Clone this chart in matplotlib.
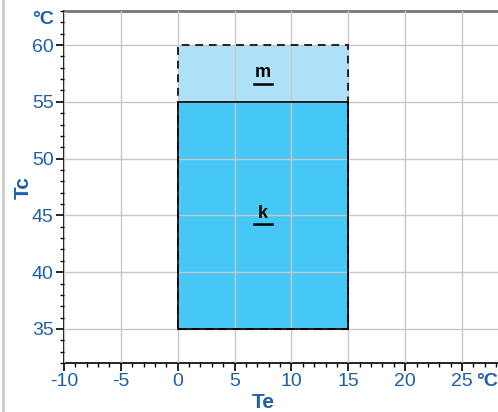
import matplotlib.pyplot as plt
from matplotlib.patches import Rectangle
from matplotlib.ticker import MultipleLocator

plt.rcParams['font.family'] = ['Liberation Sans', 'DejaVu Sans']
plt.rcParams['axes.unicode_minus'] = False

# zones (Te from/to, Tc from/to)
zone_names = ['k', 'm']
te_lo = [0, 0]
te_hi = [15, 15]
tc_lo = [35, 55]
tc_hi = [55, 60]
zone_colors = ['#45c8f5', '#aee1f9']

x_ticks = [-10, -5, 0, 5, 10, 15, 20, 25]
y_ticks = [35, 40, 45, 50, 55, 60]

blue = '#1f5fa8'

fig = plt.figure(figsize=(4.98, 4.12), dpi=100)
ax = fig.add_axes([64/498, 1 - 363/412, 1 - 64/498 + 0.01, (363 - 11)/412])
ax.set_xlim(-10, 28.6)
ax.set_ylim(32, 63)

for i in range(len(zone_names)):
    ax.add_patch(Rectangle((te_lo[i], tc_lo[i]), te_hi[i] - te_lo[i], tc_hi[i] - tc_lo[i],
                           facecolor=zone_colors[i], edgecolor='none', zorder=1))

# outer dashed outline and solid outline of k
ax.add_patch(Rectangle((te_lo[0], tc_lo[0]), te_hi[1] - te_lo[0], tc_hi[1] - tc_lo[0],
                       fill=False, edgecolor='#222222', lw=1.4, ls=(0, (4, 3)), zorder=3))
ax.add_patch(Rectangle((te_lo[0], tc_lo[0]), te_hi[0] - te_lo[0], tc_hi[0] - tc_lo[0],
                       fill=False, edgecolor='black', lw=1.2, zorder=3))

for i, name in enumerate(zone_names):
    xc = (te_lo[i] + te_hi[i]) / 2
    yc = (tc_lo[i] + tc_hi[i]) / 2 + (0.2 if name == 'k' else 0.1)
    ax.text(xc, yc, name, ha='center', va='center', fontsize=13, fontweight='bold', zorder=4)
    ax.plot([xc - 0.75, xc + 0.75], [yc - 1.0, yc - 1.0], color='black', lw=1.8, zorder=4)

ax.set_xticks(x_ticks)
ax.set_yticks(y_ticks)
ax.xaxis.set_minor_locator(MultipleLocator(1))
ax.yaxis.set_minor_locator(MultipleLocator(1))
ax.grid(True, which='major', color='#c8c8c8', lw=1.0, zorder=2)
ax.set_axisbelow(False)
for gl in ax.get_xgridlines() + ax.get_ygridlines():
    gl.set_zorder(2)

ax.tick_params(which='major', direction='out', length=5.5, width=1.2, colors='black',
               labelcolor=blue, labelsize=14, pad=2)
ax.tick_params(which='minor', direction='out', length=3, width=1.0, colors='black')

ax.spines['right'].set_visible(False)
ax.spines['top'].set_color('#777777')
ax.spines['top'].set_linewidth(2)
ax.spines['left'].set_linewidth(1.2)
ax.spines['bottom'].set_linewidth(1.2)

fig.text(263/498, 1 - 402/412, 'Te', color=blue, fontsize=15, fontweight='bold', ha='center', va='center')
fig.text(23/498, 1 - 188/412, 'Tc', color=blue, fontsize=15, fontweight='bold', ha='center', va='center',
         rotation=90)

fig.text(43/498, 1 - 20/412, '°C', color=blue, fontsize=14, fontweight='bold', ha='center', va='center')
fig.text(487/498, 1 - 382/412, '°C', color=blue, fontsize=14, fontweight='bold', ha='center', va='center')

# left border of the frame
fig.add_artist(plt.Line2D([3/498, 3/498], [0, 1], color='#cccccc', lw=2))

fig.savefig('out.png', dpi=100)
